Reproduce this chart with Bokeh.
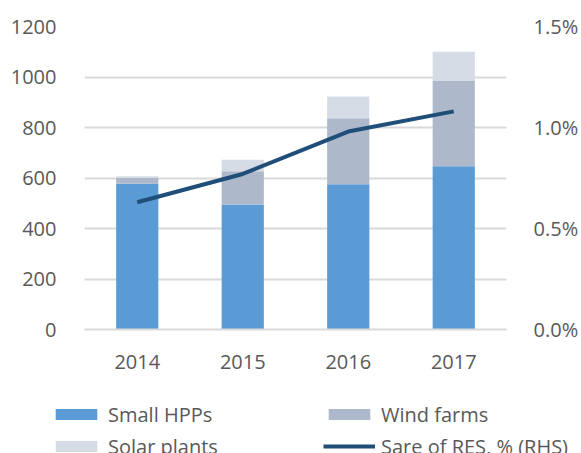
from bokeh.plotting import figure
from bokeh.models import (Range1d, LinearAxis, Legend, LegendItem, FixedTicker,
                          PrintfTickFormatter, ColumnDataSource, FactorRange)
from bokeh.embed import file_html
from bokeh.resources import INLINE

years = ["2014", "2015", "2016", "2017"]
small_hpps = [577, 495, 575, 647]
wind_farms = [23, 132, 262, 339]
solar_plants = [7, 45, 86, 114]
res_share = [0.63, 0.77, 0.98, 1.08]

series_names = ["Small HPPs", "Wind farms", "Solar plants"]
line_name = "Sare of RES, % (RHS)"

left_ticks = [0, 200, 400, 600, 800, 1000, 1200]
right_ticks = [0.0, 0.5, 1.0, 1.5]

FONT = "Open Sans"
FS = "20px"
TXT = "#595959"
GRID = "#d9d9d9"
COLORS = ["#5b9bd5", "#adb9ca", "#d6dce5"]
LINE_COLOR = "#1f4e79"

src = ColumnDataSource(dict(years=years, hpp=small_hpps, wind=wind_farms,
                            solar=solar_plants, share=res_share))

p = figure(x_range=FactorRange(*years, range_padding=0), y_range=Range1d(0, 1200),
           width=581, height=380, output_backend="svg", toolbar_location=None,
           min_border_left=84, min_border_right=70, min_border_top=26,
           min_border_bottom=51)
p.extra_y_ranges = {"pct": Range1d(0, 1.5)}

bars = p.vbar_stack(["hpp", "wind", "solar"], x="years", width=0.4, source=src,
                    color=COLORS, line_color=None)
ln = p.line(x="years", y="share", source=src, y_range_name="pct",
            line_color=LINE_COLOR, line_width=4)

p.outline_line_color = None
p.xgrid.grid_line_color = None
p.ygrid.grid_line_color = GRID
p.ygrid.grid_line_width = 2
p.yaxis.ticker = FixedTicker(ticks=left_ticks)

ya = p.yaxis[0]
ya.axis_line_color = None
ya.major_tick_line_color = None
ya.minor_tick_line_color = None
ya.major_label_text_font = FONT
ya.major_label_text_font_size = FS
ya.major_label_text_color = TXT
ya.major_label_standoff = 22

rax = LinearAxis(y_range_name="pct", ticker=FixedTicker(ticks=right_ticks),
                 formatter=PrintfTickFormatter(format="%.1f%%"))
rax.axis_line_color = None
rax.major_tick_line_color = None
rax.minor_tick_line_color = None
rax.major_label_text_font = FONT
rax.major_label_text_font_size = FS
rax.major_label_text_color = TXT
rax.major_label_standoff = 21
p.add_layout(rax, "right")

xa = p.xaxis[0]
xa.axis_line_color = GRID
xa.axis_line_width = 2
xa.major_tick_line_color = None
xa.minor_tick_line_color = None
xa.major_label_text_font = FONT
xa.major_label_text_font_size = FS
xa.major_label_text_color = TXT
xa.major_label_standoff = 19

# legend figure (below the chart); hidden proxies carry the legend glyphs
p2 = figure(width=581, height=73, output_backend="svg", toolbar_location=None,
            x_axis_type=None, y_axis_type=None,
            x_range=FactorRange(*years), y_range=Range1d(0, 1200),
            min_border=0, min_border_left=0, min_border_right=0,
            min_border_top=0, min_border_bottom=0)
p2.outline_line_color = None
p2.grid.grid_line_color = None
lr = p2.vbar_stack(["hpp", "wind", "solar"], x="years", width=0.4, source=src,
                   color=COLORS, line_color=None, visible=False)
ll = p2.line(x="years", y="share", source=src, line_color=LINE_COLOR,
             line_width=4, visible=False)

legend = Legend(items=[
    LegendItem(label=series_names[0], renderers=[lr[0]]),
    LegendItem(label=series_names[1], renderers=[lr[1]]),
    LegendItem(label=series_names[2], renderers=[lr[2]]),
    LegendItem(label=line_name, renderers=[ll]),
], orientation="horizontal", ncols=2, location=(50, -9))
legend.background_fill_alpha = 0
legend.border_line_color = None
legend.padding = 0
legend.margin = 0
legend.glyph_width = 52
legend.glyph_height = 14
legend.label_height = 32
legend.label_width = 215
legend.label_standoff = 6
legend.spacing = 0
legend.label_text_font = FONT
legend.label_text_font_size = FS
legend.label_text_color = TXT
legend.inactive_fill_alpha = 0
p2.add_layout(legend, "center")

open("out.html", "w").write(file_html([p, p2], INLINE))
